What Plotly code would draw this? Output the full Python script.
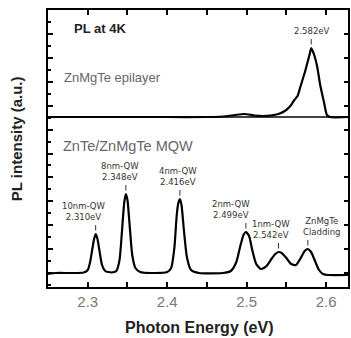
import plotly.graph_objects as go

# ---------------- data ----------------
# Lower curve: ZnTe/ZnMgTe MQW PL spectrum (a.u.)
mqw_E = [2.250, 2.260, 2.280, 2.295, 2.300, 2.303, 2.306, 2.308, 2.310, 2.312,
         2.315, 2.318, 2.322, 2.330, 2.336, 2.340, 2.343, 2.346, 2.348, 2.350,
         2.353, 2.356, 2.360, 2.366, 2.380, 2.400, 2.405, 2.409, 2.412, 2.414,
         2.416, 2.418, 2.421, 2.425, 2.430, 2.440, 2.470, 2.480, 2.487, 2.492,
         2.496, 2.499, 2.503, 2.507, 2.512, 2.518, 2.525, 2.532, 2.536, 2.540,
         2.544, 2.550, 2.556, 2.562, 2.568, 2.573, 2.577, 2.581, 2.586, 2.591,
         2.596, 2.603, 2.6275]
mqw_I = [13, 14, 14, 14.5, 17, 25, 39, 48, 53, 49,
         35, 22, 16, 14.5, 16, 27, 55, 85, 93, 87,
         59, 32, 19, 15, 14, 15, 19, 39, 72, 84,
         88, 82, 57, 29, 17, 14, 14, 16, 25, 41,
         52, 55, 51, 37, 23, 18, 21, 29, 33, 35,
         34, 29, 23, 22, 29, 36, 38, 35, 26, 17,
         13, 12, 12]

# Upper curve: ZnMgTe epilayer PL spectrum (a.u.)
epi_E = [2.250, 2.400, 2.450, 2.470, 2.485, 2.497, 2.510, 2.520, 2.530, 2.540,
         2.548, 2.555, 2.560, 2.564, 2.5675, 2.571, 2.574, 2.577, 2.579, 2.5812,
         2.583, 2.585, 2.5888, 2.5925, 2.5975, 2.601, 2.605, 2.6275]
epi_I = [170, 170, 170, 170.5, 172, 173, 171.5, 171, 171.5, 173,
         176, 181, 187, 191, 200, 209, 217, 226, 232, 239,
         236, 232, 220, 202, 184, 172, 170, 170]

# Peak labels
peak_E = [2.310, 2.348, 2.416, 2.499, 2.540, 2.577, 2.5812]
peak_I = [53, 93, 88, 55, 35, 38, 239]
peak_labels = ["10nm-QW<br>2.310eV", "8nm-QW<br>2.348eV", "4nm-QW<br>2.416eV",
               "2nm-QW<br>2.499eV", "1nm-QW<br>2.542eV", "ZnMgTe<br>Cladding",
               "2.582eV"]
label_xshift = [-12, -6, -2, -15, -7, 14, 1]

x_ticks = [2.3, 2.4, 2.5, 2.6]
x_tick_text = ["2.3", "2.4", "2.5", "2.6"]

# ---------------- figure ----------------
FONT = "Liberation Sans, Arial, sans-serif"

fig = go.Figure()
fig.add_trace(go.Scatter(x=mqw_E, y=mqw_I, mode="lines",
                         line=dict(color="black", width=2.2, shape="spline", smoothing=0.6),
                         hoverinfo="skip", showlegend=False))
fig.add_trace(go.Scatter(x=epi_E, y=epi_I, mode="lines",
                         line=dict(color="black", width=2.2, shape="spline", smoothing=0.6),
                         hoverinfo="skip", showlegend=False))
# dummy trace to activate right-hand tick axis
fig.add_trace(go.Scatter(x=[None], y=[None], yaxis="y2", hoverinfo="skip",
                         showlegend=False))

# divider between the two spectra
fig.add_shape(type="line", xref="paper", x0=0, x1=1, yref="y", y0=170, y1=170,
              line=dict(color="black", width=1.6))

annotations = []
for E, I, lab, xs in zip(peak_E, peak_I, peak_labels, label_xshift):
    fig.add_shape(type="line", xref="x", yref="y", x0=E, x1=E, y0=I + 3.5, y1=I + 9,
                  line=dict(color="#333", width=1))
    annotations.append(dict(x=E, y=I, xref="x", yref="y", text=lab, showarrow=False,
                            xanchor="center", yanchor="bottom", yshift=10, xshift=xs,
                            align="center",
                            font=dict(family="DejaVu Sans, sans-serif", size=8.5, color="#333")))

annotations += [
    dict(xref="paper", yref="paper", x=(72 - 48) / 302, y=(287 - 28) / 277,
         text="<b>PL at 4K</b>", showarrow=False, xanchor="left", yanchor="middle",
         font=dict(family=FONT, size=13, color="#222")),
    dict(xref="paper", yref="paper", x=(62 - 48) / 302, y=(287 - 77) / 277,
         text="ZnMgTe epilayer", showarrow=False, xanchor="left", yanchor="middle",
         font=dict(family=FONT, size=13, color="#666")),
    dict(xref="paper", yref="paper", x=(61 - 48) / 302, y=(287 - 146) / 277,
         text="ZnTe/ZnMgTe MQW", showarrow=False, xanchor="left", yanchor="middle",
         font=dict(family=FONT, size=14.5, color="#666")),
    dict(xref="paper", yref="paper", x=(16 - 48) / 302, y=(287 - 139) / 277,
         text="<b>PL intensity (a.u.)</b>", textangle=-90, showarrow=False,
         xanchor="center", yanchor="middle",
         font=dict(family=FONT, size=15, color="#222")),
    dict(xref="paper", yref="paper", x=(200 - 48) / 302, y=(287 - 328) / 277,
         text="<b>Photon Energy (eV)</b>", showarrow=False,
         xanchor="center", yanchor="middle",
         font=dict(family=FONT, size=16, color="#222")),
]

fig.update_layout(
    width=351, height=338,
    margin=dict(l=48, r=1, t=10, b=51),
    paper_bgcolor="white", plot_bgcolor="white",
    annotations=annotations,
    xaxis=dict(range=[2.25, 2.6275], tickvals=x_ticks, ticktext=x_tick_text,
               ticks="inside", ticklen=5, tickwidth=1.5, tickcolor="black",
               showline=True, linecolor="black", linewidth=2, mirror="allticks",
               showgrid=False, zeroline=False,
               minor=dict(dtick=0.05, tick0=2.25, ticks="inside", ticklen=3,
                          tickwidth=1.5, tickcolor="black", showgrid=False),
               tickfont=dict(family=FONT, size=15, color="#777")),
    yaxis=dict(range=[0, 277], showticklabels=False,
               tick0=37.9, dtick=23.9, ticks="inside", ticklen=5, tickwidth=1.5,
               tickcolor="black",
               minor=dict(dtick=11.95, tick0=14, ticks="inside", ticklen=3,
                          tickwidth=1.5, tickcolor="black", showgrid=False),
               showline=True, linecolor="black", linewidth=2, mirror=True,
               showgrid=False, zeroline=False),
    yaxis2=dict(range=[0, 277], overlaying="y", side="right", showticklabels=False,
                tick0=37.9, dtick=23.9, ticks="inside", ticklen=4, tickwidth=1.5,
                tickcolor="black", showline=False, showgrid=False, zeroline=False),
)

fig.write_html("out.html")
